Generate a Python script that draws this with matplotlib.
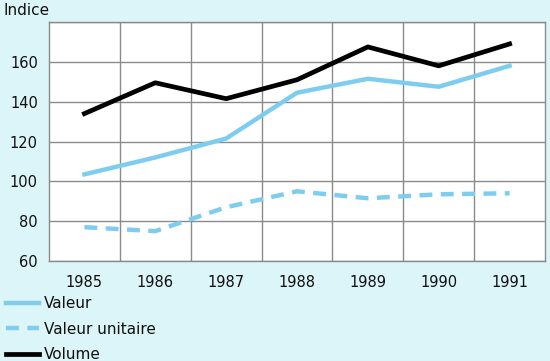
import matplotlib.pyplot as plt
from matplotlib.lines import Line2D

years = [1985, 1986, 1987, 1988, 1989, 1990, 1991]
valeur = [103.5, 112, 121.5, 144.5, 151.5, 147.5, 158]
valeur_unitaire = [77, 75, 87, 95, 91.5, 93.5, 94]
volume = [134, 149.5, 141.5, 151, 167.5, 158, 169]

bg = '#dcf5f9'
light_blue = '#7fcdee'
dash = (0, (2.9, 1.9))

fig = plt.figure(figsize=(5.5, 3.61), dpi=100, facecolor=bg)
ax = fig.add_axes([0.089, 0.277, 0.902, 0.662])
ax.set_facecolor('white')

ax.plot(years, valeur, color=light_blue, lw=3.2)
ax.plot(years, valeur_unitaire, color=light_blue, lw=3.2, ls=dash)
ax.plot(years, volume, color='black', lw=3.4)

ax.set_xlim(1984.5, 1991.5)
ax.set_ylim(60, 180)
ax.set_xticks(years)
ax.set_xticks([y + 0.5 for y in years[:-1]], minor=True)
ax.set_yticks([60, 80, 100, 120, 140, 160])
ax.set_yticks([180], minor=True)
ax.grid(True, which='minor', axis='x', color='#8a8a8a', lw=1)
ax.grid(True, which='major', axis='y', color='#8a8a8a', lw=1)
ax.grid(True, which='minor', axis='y', color='#8a8a8a', lw=1)
ax.set_axisbelow(True)
ax.tick_params(which='both', length=0, labelsize=10.5, colors='#111111')
ax.tick_params(axis='x', pad=10)
ax.tick_params(axis='y', pad=8)
for s in ax.spines.values():
    s.set_color('#8a8a8a')
    s.set_linewidth(1)

fig.text(0.006, 0.972, 'Indice', fontsize=11, color='#111111', va='center')

handles = [
    Line2D([], [], color=light_blue, lw=3.2),
    Line2D([], [], color=light_blue, lw=3.2, ls=dash),
    Line2D([], [], color='black', lw=3.4),
]
labels = ['Valeur', 'Valeur unitaire', 'Volume']
fig.legend(handles, labels, loc='upper left', bbox_to_anchor=(0.009, 0.183),
           frameon=False, fontsize=11, handlelength=2.1, handletextpad=0.33,
           labelspacing=0.67, borderaxespad=0, borderpad=0.1,
           labelcolor='#111111')

fig.savefig('out.png', dpi=100, facecolor=bg)
